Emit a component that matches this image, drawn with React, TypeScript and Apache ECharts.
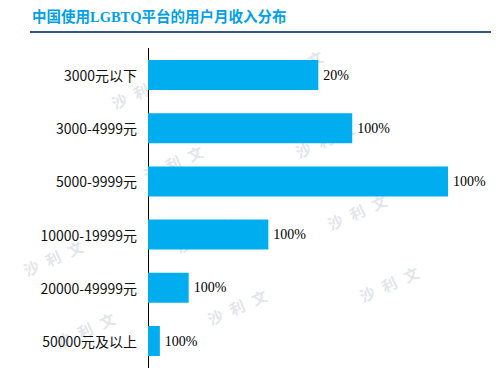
import React, { useEffect, useRef } from "react";
import * as echarts from "echarts";

const titleText = "中国使用LGBTQ平台的用户月收入分布";
const categories = [
  "3000元以下",
  "3000-4999元",
  "5000-9999元",
  "10000-19999元",
  "20000-49999元",
  "50000元及以上",
];
const values = [20.1, 24.1, 35.4, 14.2, 4.8, 1.4];
const valueLabels = ["20%", "100%", "100%", "100%", "100%", "100%"];
const watermarkChars = ["沙", "利", "文"];

export default function App() {
  const ref = useRef<HTMLDivElement>(null);
  useEffect(() => {
    document.body.style.margin = "0";
    if (!ref.current) return;
    const chart = echarts.init(ref.current, undefined, { renderer: "svg" });

    // watermark lattice (decorative)
    const wm: any[] = [];
    const ax = 152, ay = -23, bx = 32, by = 72;
    const ox = 173, oy = 163;
    const rot = 0.42;
    for (let i = -3; i <= 4; i++) {
      for (let j = -4; j <= 4; j++) {
        const cx = ox + i * ax + j * bx;
        const cy = oy + i * ay + j * by;
        const dx = Math.cos(rot) * 24, dy = -Math.sin(rot) * 24;
        const pts = [-1, 0, 1].map((k) => [cx + k * dx, cy + k * dy]);
        const inside = pts.every(([px, py]) => px > 12 && px < 486 && py > 40 && py < 362);
        if (!inside) continue;
        wm.push({
          type: "group",
          x: cx,
          y: cy,
          rotation: rot,
          silent: true,
          z: -10,
          children: watermarkChars.map((ch, k) => ({
            type: "text",
            x: (k - 1) * 24,
            y: 0,
            style: {
              text: ch,
              fill: "#e1e5ec",
              font: "bold 15px 'Noto Sans CJK SC'",
              align: "center",
              verticalAlign: "middle",
            },
          })),
        });
      }
    }

    chart.setOption({
      animation: false,
      backgroundColor: "#ffffff",
      grid: { left: 148, right: 50, top: 48.4, bottom: 6.4, containLabel: false },
      xAxis: {
        type: "value",
        min: 0,
        max: Math.max(...values),
        show: false,
      },
      yAxis: {
        type: "category",
        data: categories,
        inverse: true,
        axisLine: { show: true, lineStyle: { color: "#000", width: 1 } },
        axisTick: { show: false },
        splitLine: { show: false },
        axisLabel: {
          margin: 11,
          color: "#111",
          fontSize: 14,
          fontFamily: "'Noto Sans CJK SC'",
        },
      },
      series: [
        {
          type: "bar",
          data: values,
          barWidth: 30,
          itemStyle: { color: "#00ADEF" },
          label: {
            show: true,
            position: "right",
            distance: 5,
            color: "#000",
            fontSize: 14,
            fontFamily: "'Liberation Serif'",
            formatter: (p: any) => valueLabels[p.dataIndex],
          },
          z: 2,
        },
      ],
      graphic: [
        ...wm,
        {
          type: "text",
          left: 32,
          top: 10,
          style: {
            text: titleText,
            fill: "#00A0E9",
            font: "bold 14.5px 'Liberation Serif', 'Noto Sans CJK SC'",
          },
          z: 10,
        },
        {
          type: "line",
          shape: { x1: 30, y1: 32, x2: 491, y2: 32 },
          style: { stroke: "#34558b", lineWidth: 2 },
          z: 10,
        },
      ],
    });
    return () => chart.dispose();
  }, []);
  return <div ref={ref} style={{ width: 498, height: 374 }} />;
}
